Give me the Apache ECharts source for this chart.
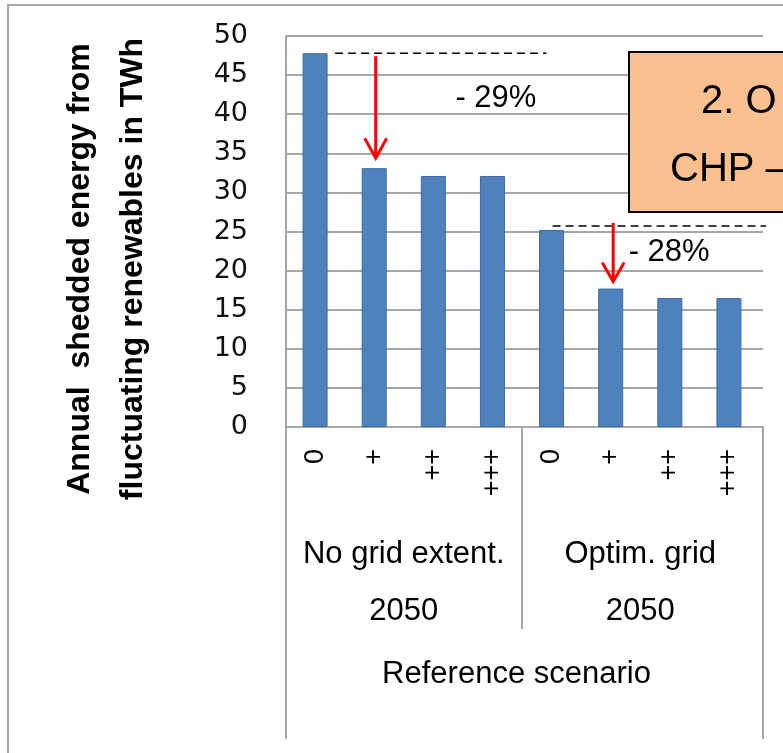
<!DOCTYPE html>
<html><head><meta charset="utf-8">
<script src="https://cdn.jsdelivr.net/npm/echarts@6/dist/echarts.min.js"></script>
<style>html,body{margin:0;padding:0;background:#fff}#c{width:783px;height:753px}</style>
</head><body><div id="c"></div>
<script>
// ---- data ----
const categories = ['0', '+', '++', '+++', '0', '+', '++', '+++'];
const values = [47.8, 33.1, 32.1, 32.1, 25.2, 17.7, 16.5, 16.5];
const groupLabels = ['No grid extent.\n2050', 'Optim. grid\n2050'];
const scenarioLabels = ['Reference scenario'];
const yMin = 0, yMax = 50, yStep = 5;
const yTitle = ['Annual  shedded energy from', 'fluctuating renewables in TWh'];
const reductionLabels = ['- 29%', '- 28%'];
const boxLines = ['2. O', 'CHP –'];

const GRAY = '#A6A6A6';
const chart = echarts.init(document.getElementById('c'), null, {renderer: 'canvas'});

const option = {
  animation: false,
  backgroundColor: '#fff',
  grid: [
    {left: 286, top: 36, width: 477, height: 391},
    {left: 285.5, top: 36, width: 473, height: 391}
  ],
  xAxis: [
    {gridIndex: 0, type: 'category', data: scenarioLabels, position: 'bottom',
      axisLine: {show: true, lineStyle: {color: GRAY, width: 2}},
      axisTick: {show: true, length: 312, lineStyle: {color: GRAY, width: 2}},
      axisLabel: {margin: 229, fontSize: 31, fontFamily: 'Liberation Sans', color: '#000', lineHeight: 36, padding: [0, 16, 0, 0]},
      splitLine: {show: false}},
    {gridIndex: 1, type: 'category', data: categories, position: 'bottom',
      axisLine: {show: false}, axisTick: {show: false},
      axisLabel: {rotate: 90, margin: 22, fontSize: 27, fontFamily: 'Liberation Sans', color: '#000', interval: 0}},
    {gridIndex: 1, type: 'category', data: groupLabels, position: 'bottom',
      axisLine: {show: false}, axisTick: {show: false},
      axisLabel: {margin: 99, fontSize: 31, lineHeight: 57, fontFamily: 'Liberation Sans', color: '#000', interval: 0}}
  ],
  yAxis: [
    {gridIndex: 0, type: 'value', min: yMin, max: yMax, interval: yStep,
      axisLine: {show: true, lineStyle: {color: GRAY, width: 2}},
      axisTick: {show: false},
      axisLabel: {margin: 38, fontSize: 27, fontFamily: 'DejaVu Sans', color: '#111'},
      splitLine: {show: true, lineStyle: {color: GRAY, width: 2}}},
    {gridIndex: 1, type: 'value', min: yMin, max: yMax, interval: yStep, show: false,
      splitLine: {show: false}}
  ],
  series: [{
    type: 'bar', xAxisIndex: 1, yAxisIndex: 1, data: values, barWidth: 25,
    itemStyle: {color: '#4F81BD', borderColor: '#3C6A9E', borderWidth: 1}
  }]
};
chart.setOption(option);

const P = (i, v) => chart.convertToPixel({seriesIndex: 0}, [i, v]);
const p = values.map((v, i) => P(i, v));
const base = P(0, 0)[1];
const dash2y = p[4][1] - 4;

function arrow(x, y0, tip, half, len) {
  return [
    {type: 'line', z: 100, shape: {x1: x, y1: y0, x2: x, y2: tip}, style: {stroke: '#FF0000', lineWidth: 3}},
    {type: 'polyline', z: 100, shape: {points: [[x - half, tip - len], [x, tip], [x + half, tip - len]]},
      style: {stroke: '#FF0000', lineWidth: 3, fill: null}}
  ];
}

const graphics = [
  {type: 'rect', z: 100, shape: {x: 8, y: 5, width: 1000, height: 1000}, style: {fill: null, stroke: GRAY, lineWidth: 2}},
  {type: 'text', z: 100, x: 80, y: 269, rotation: Math.PI / 2,
    style: {text: yTitle[0], fontSize: 32, fontWeight: 'bold', fontFamily: 'Liberation Sans', fill: '#000', align: 'center', verticalAlign: 'middle'}},
  {type: 'text', z: 100, x: 133, y: 269, rotation: Math.PI / 2,
    style: {text: yTitle[1], fontSize: 32, fontWeight: 'bold', fontFamily: 'Liberation Sans', fill: '#000', align: 'center', verticalAlign: 'middle'}},
  // group divider in category box
  {type: 'line', z: 100, shape: {x1: (p[3][0] + p[4][0]) / 2, y1: base, x2: (p[3][0] + p[4][0]) / 2, y2: base + 202},
    style: {stroke: GRAY, lineWidth: 2}},
  // dashed reference lines
  {type: 'line', z: 100, shape: {x1: p[0][0] + 20, y1: p[0][1], x2: p[3][0] + 54, y2: p[0][1]},
    style: {stroke: '#000', lineWidth: 1.5, lineDash: [8, 5]}},
  {type: 'line', z: 100, shape: {x1: p[4][0] + 1, y1: dash2y, x2: 766, y2: dash2y},
    style: {stroke: '#000', lineWidth: 1.5, lineDash: [8, 5]}},
  ...arrow(p[1][0] + 1.5, p[0][1] + 3, p[1][1] - 10, 11, 20),
  ...arrow(p[5][0] + 2.5, dash2y - 3, p[5][1] - 7, 11, 19),
  {type: 'text', z: 100, x: p[2][0] + 62.6, y: p[0][1] + 45,
    style: {text: reductionLabels[0], fontSize: 31, fontFamily: 'Liberation Sans', fill: '#000', align: 'center', verticalAlign: 'middle'}},
  {type: 'text', z: 100, x: p[5][0] + 18, y: dash2y + 26.5,
    style: {text: reductionLabels[1], fontSize: 31, fontFamily: 'Liberation Sans', fill: '#000', align: 'left', verticalAlign: 'middle'}},
  // orange box
  {type: 'rect', z: 110, shape: {x: 629, y: 52, width: 300, height: 160}, style: {fill: '#FAC090', stroke: '#000', lineWidth: 2}},
  {type: 'text', z: 111, x: 701, y: 102,
    style: {text: boxLines[0], fontSize: 40, fontFamily: 'Liberation Sans', fill: '#000', align: 'left', verticalAlign: 'middle'}},
  {type: 'text', z: 111, x: 670, y: 170,
    style: {text: boxLines[1], fontSize: 40, fontFamily: 'Liberation Sans', fill: '#000', align: 'left', verticalAlign: 'middle'}}
];
chart.setOption({graphic: graphics});
</script>
</body></html>
